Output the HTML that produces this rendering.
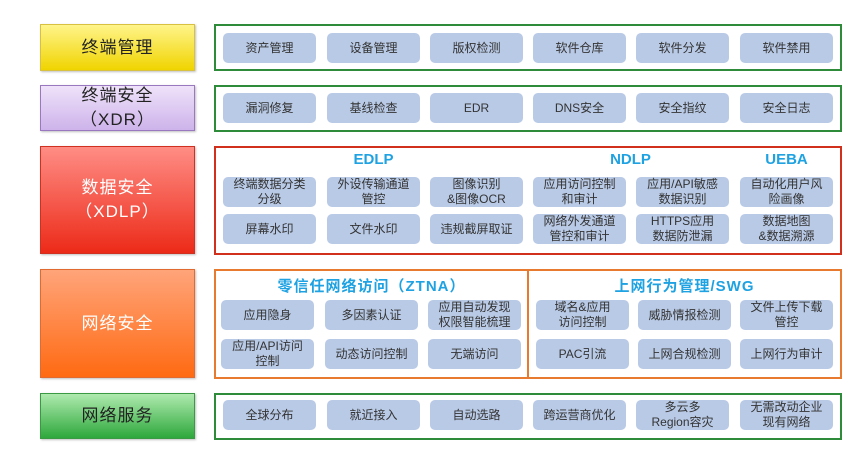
<!DOCTYPE html>
<html><head><meta charset="utf-8"><style>
body{margin:0;width:865px;height:454px;background:#fff;position:relative;overflow:hidden;font-family:"Liberation Sans","Noto Sans CJK SC",sans-serif}
.l{position:absolute;left:40px;width:155px;box-sizing:border-box;display:flex;align-items:center;justify-content:center;text-align:center;font-size:17px;line-height:24px;letter-spacing:1px;box-shadow:1px 1px 2px rgba(0,0,0,.25)}
.b{position:absolute;left:214px;width:628px;box-sizing:border-box;border:2px solid #2e8b3a}
.p{position:absolute;width:93px;height:30px;background:#b9cae6;border-radius:5px;display:flex;align-items:center;justify-content:center;text-align:center;font-size:12px;line-height:15px;color:#333}
.t{position:absolute;color:#1ea2e2;font-weight:bold;font-size:15px;text-align:center}
</style></head><body>
<div class="l" style="top:24px;height:47px;background:linear-gradient(#fff48a,#f0d400);border:1px solid #d8c040;color:#222">终端管理</div>
<div class="l" style="top:85px;height:46px;background:linear-gradient(#efe2fa,#cdb3ea);border:1px solid #9a78c0;color:#222">终端安全<br>（XDR）</div>
<div class="l" style="top:146px;height:108px;background:linear-gradient(#ff8d85,#ec2a18);border:1px solid #d03020;color:#fff">数据安全<br>（XDLP）</div>
<div class="l" style="top:269px;height:109px;background:linear-gradient(#ffa47a,#ff6a12);border:1px solid #e06a30;color:#fff">网络安全</div>
<div class="l" style="top:393px;height:46px;background:linear-gradient(#aeeaae,#2ea83c);border:1px solid #3a9a44;color:#222">网络服务</div>

<div class="b" style="top:24px;height:47px"></div>
<div class="b" style="top:85px;height:47px"></div>
<div class="b" style="top:146px;height:109px;border-color:#d0301c"></div>
<div class="b" style="top:269px;height:110px;border-color:#e87a30"></div>
<div style="position:absolute;left:527px;top:269px;width:2px;height:110px;background:#e87a30"></div>
<div class="b" style="top:393px;height:47px"></div>

<div class="p" style="left:223px;top:33px">资产管理</div>
<div class="p" style="left:327px;top:33px">设备管理</div>
<div class="p" style="left:430px;top:33px">版权检测</div>
<div class="p" style="left:533px;top:33px">软件仓库</div>
<div class="p" style="left:636px;top:33px">软件分发</div>
<div class="p" style="left:740px;top:33px">软件禁用</div>

<div class="p" style="left:223px;top:93px">漏洞修复</div>
<div class="p" style="left:327px;top:93px">基线检查</div>
<div class="p" style="left:430px;top:93px">EDR</div>
<div class="p" style="left:533px;top:93px">DNS安全</div>
<div class="p" style="left:636px;top:93px">安全指纹</div>
<div class="p" style="left:740px;top:93px">安全日志</div>

<div class="t" style="left:327px;width:93px;top:151px">EDLP</div>
<div class="t" style="left:584px;width:93px;top:151px">NDLP</div>
<div class="t" style="left:740px;width:93px;top:151px">UEBA</div>
<div class="p" style="left:223px;top:177px">终端数据分类<br>分级</div>
<div class="p" style="left:327px;top:177px">外设传输通道<br>管控</div>
<div class="p" style="left:430px;top:177px">图像识别<br>&amp;图像OCR</div>
<div class="p" style="left:533px;top:177px">应用访问控制<br>和审计</div>
<div class="p" style="left:636px;top:177px">应用/API敏感<br>数据识别</div>
<div class="p" style="left:740px;top:177px">自动化用户风<br>险画像</div>
<div class="p" style="left:223px;top:214px">屏幕水印</div>
<div class="p" style="left:327px;top:214px">文件水印</div>
<div class="p" style="left:430px;top:214px">违规截屏取证</div>
<div class="p" style="left:533px;top:214px">网络外发通道<br>管控和审计</div>
<div class="p" style="left:636px;top:214px">HTTPS应用<br>数据防泄漏</div>
<div class="p" style="left:740px;top:214px">数据地图<br>&amp;数据溯源</div>

<div class="t" style="left:216px;width:311px;top:275px;letter-spacing:1px">零信任网络访问（ZTNA）</div>
<div class="t" style="left:529px;width:311px;top:275px;letter-spacing:1px">上网行为管理/SWG</div>
<div class="p" style="left:221px;top:300px">应用隐身</div>
<div class="p" style="left:325px;top:300px">多因素认证</div>
<div class="p" style="left:428px;top:300px">应用自动发现<br>权限智能梳理</div>
<div class="p" style="left:536px;top:300px">域名&amp;应用<br>访问控制</div>
<div class="p" style="left:638px;top:300px">威胁情报检测</div>
<div class="p" style="left:740px;top:300px">文件上传下载<br>管控</div>
<div class="p" style="left:221px;top:339px">应用/API访问<br>控制</div>
<div class="p" style="left:325px;top:339px">动态访问控制</div>
<div class="p" style="left:428px;top:339px">无端访问</div>
<div class="p" style="left:536px;top:339px">PAC引流</div>
<div class="p" style="left:638px;top:339px">上网合规检测</div>
<div class="p" style="left:740px;top:339px">上网行为审计</div>

<div class="p" style="left:223px;top:400px">全球分布</div>
<div class="p" style="left:327px;top:400px">就近接入</div>
<div class="p" style="left:430px;top:400px">自动选路</div>
<div class="p" style="left:533px;top:400px">跨运营商优化</div>
<div class="p" style="left:636px;top:400px">多云多<br>Region容灾</div>
<div class="p" style="left:740px;top:400px">无需改动企业<br>现有网络</div>
</body></html>
